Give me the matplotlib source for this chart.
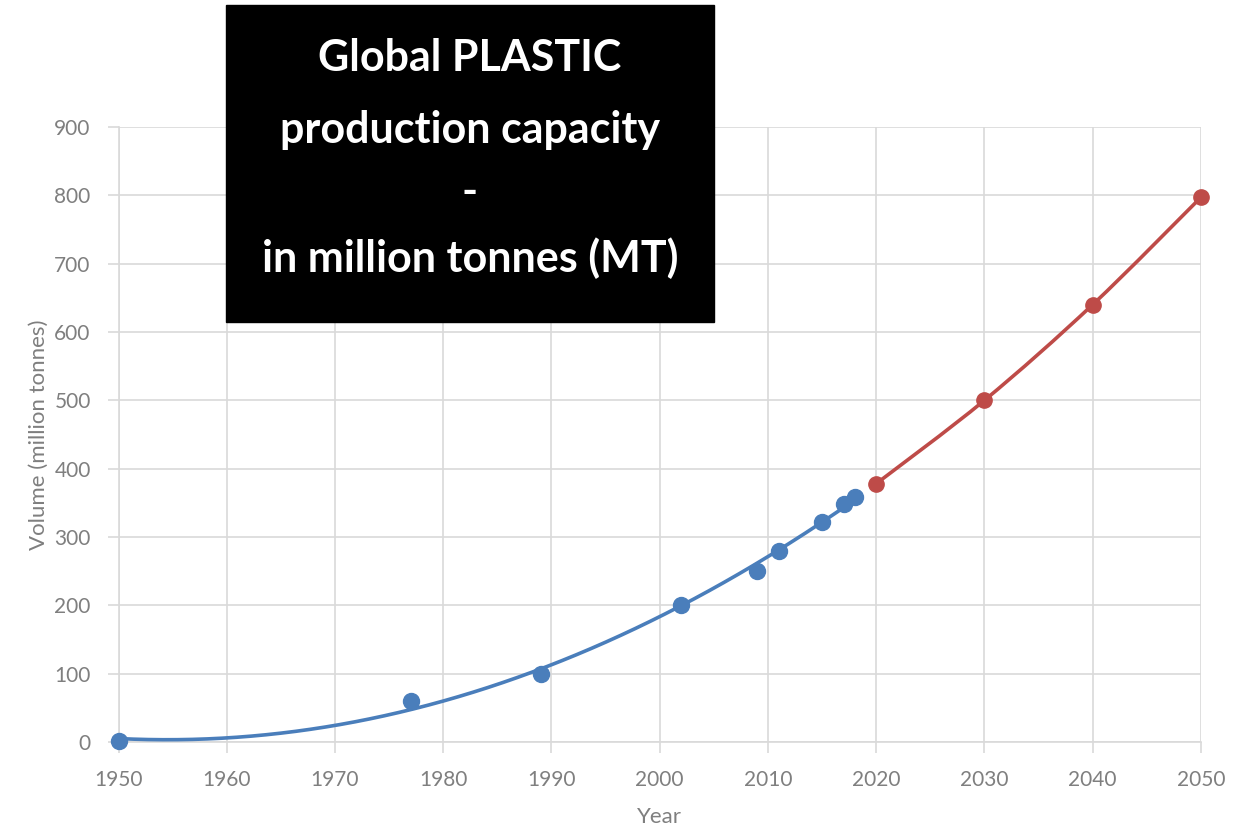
import numpy as np
import matplotlib.pyplot as plt
from matplotlib.path import Path
from matplotlib.patches import PathPatch

# measured production (million tonnes)
years_hist = [1950, 1977, 1989, 2002, 2009, 2011, 2015, 2017, 2018]
volume_hist = [2, 60, 100, 200, 250, 280, 322, 348, 359]

# projected capacity
years_proj = [2020, 2030, 2040, 2050]
volume_proj = [378, 500, 640, 797]

title_lines = ["Global PLASTIC", "production capacity", "-", "in million tonnes (MT)"]
title_rows = [58, 130, 192, 258]

BLUE = '#4a7ebb'
RED = '#be4b48'
GREY = '#7f7f7f'
GRID = '#d9d9d9'

plt.rcParams['font.family'] = ['Lato', 'DejaVu Sans']

fig = plt.figure(figsize=(12.37, 8.30), dpi=100)
ax = fig.add_axes([0.0958, 0.106, 0.875, 0.741])

# 2nd order trendline through the measured points
coef = np.polyfit(years_hist, volume_hist, 2)
xs = np.linspace(years_hist[0], years_hist[-1], 300)
ax.plot(xs, np.polyval(coef, xs), color=BLUE, lw=2.6, zorder=3)
ax.plot(years_hist, volume_hist, 'o', color=BLUE, ms=11.5, zorder=4, clip_on=False)

# smoothed line through projections (catmull-rom -> bezier)
px = np.array(years_proj, float)
py = np.array(volume_proj, float)
verts = [(px[0], py[0])]
codes = [Path.MOVETO]
for i in range(len(px) - 1):
    p0 = (px[max(i - 1, 0)], py[max(i - 1, 0)])
    p1 = (px[i], py[i])
    p2 = (px[i + 1], py[i + 1])
    p3 = (px[min(i + 2, len(px) - 1)], py[min(i + 2, len(px) - 1)])
    c1 = (p1[0] + (p2[0] - p0[0]) / 6, p1[1] + (p2[1] - p0[1]) / 6)
    c2 = (p2[0] - (p3[0] - p1[0]) / 6, p2[1] - (p3[1] - p1[1]) / 6)
    verts += [c1, c2, p2]
    codes += [Path.CURVE4] * 3
ax.add_patch(PathPatch(Path(verts, codes), fill=False, edgecolor=RED, lw=2.6, zorder=3))
ax.plot(years_proj, volume_proj, 'o', color=RED, ms=11, zorder=4, clip_on=False)

ax.set_xlim(1950, 2050)
ax.set_ylim(0, 900)
ax.set_xticks(range(1950, 2051, 10))
ax.set_yticks(range(0, 901, 100))
ax.grid(True, color=GRID, lw=1.2)
ax.set_axisbelow(True)
for s in ['top', 'right']:
    ax.spines[s].set_visible(False)
for s in ['left', 'bottom']:
    ax.spines[s].set_color(GRID)
    ax.spines[s].set_linewidth(1.2)
ax.tick_params(colors=GRID, labelcolor=GREY, labelsize=15, length=8, width=1.2)
ax.tick_params(axis='x', pad=12)
ax.tick_params(axis='y', pad=12)
ax.set_xlabel('Year', color=GREY, fontsize=16)
ax.xaxis.set_label_coords(0.5, -0.105)
ax.set_ylabel('Volume (million tonnes)', color=GREY, fontsize=16)
ax.yaxis.set_label_coords(-0.064, 0.5)

# black title box
fig.patches.append(plt.Rectangle((226 / 1237, 1 - 322 / 830), 488 / 1237, 317 / 830,
                                 transform=fig.transFigure, color='black', zorder=10))
for row, line in zip(title_rows, title_lines):
    fig.text(470 / 1237, 1 - row / 830, line, color='white', fontsize=31,
             fontweight='bold', ha='center', va='center', zorder=11)

fig.savefig('out.png', dpi=100)
